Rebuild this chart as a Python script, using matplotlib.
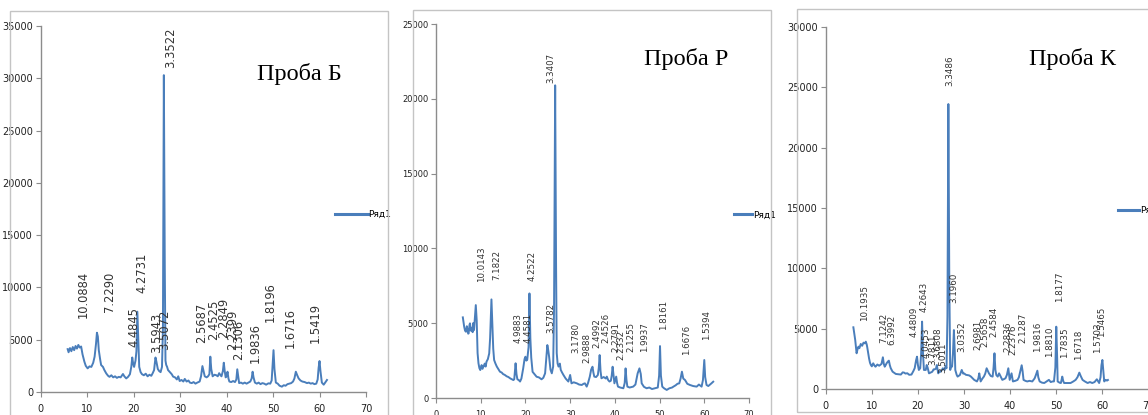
import matplotlib.pyplot as plt
from matplotlib.patches import Rectangle

# ---- Проба Б ----
b_x = [5.8, 6.0, 6.3, 6.6, 6.9, 7.2, 7.5, 7.8, 8.1, 8.4, 8.7, 9.0, 9.4, 9.7, 10.1, 10.5, 10.9, 11.3, 11.6, 11.9,
       12.1, 12.3, 12.5, 12.8, 13.0, 13.4, 13.7, 14.1, 14.5, 14.8, 15.2, 15.6, 16.0, 16.4, 16.8, 17.2, 17.7, 18.0,
       18.4, 18.8, 19.2, 19.5, 19.7, 19.9, 20.1, 20.4, 20.6, 20.8, 21.0, 21.2, 21.5, 21.8, 22.2, 22.6, 23.0, 23.4,
       23.8, 24.1, 24.4, 24.7, 24.9, 25.2, 25.5, 25.8, 26.1, 26.3, 26.5, 26.7, 26.85, 27.0, 27.2, 27.4, 27.8, 28.2,
       28.5, 28.9, 29.3, 29.6, 29.9, 30.3, 30.7, 31.0, 31.4, 31.8, 32.1, 32.5, 32.9, 33.3, 33.7, 34.2, 34.5, 34.8,
       35.0, 35.3, 35.7, 36.0, 36.3, 36.5, 36.7, 37.0, 37.4, 37.8, 38.1, 38.4, 38.7, 38.9, 39.2, 39.4, 39.6, 39.8,
       40.0, 40.2, 40.4, 40.6, 41.0, 41.4, 41.8, 42.1, 42.3, 42.5, 42.7, 43.1, 43.5, 43.9, 44.3, 44.7, 45.1, 45.4,
       45.6, 45.8, 46.1, 46.5, 46.9, 47.3, 47.7, 48.1, 48.5, 49.0, 49.4, 49.7, 49.9, 50.1, 50.3, 50.6, 51.0, 51.4,
       51.9, 52.3, 52.7, 53.1, 53.5, 53.9, 54.3, 54.6, 54.9, 55.2, 55.5, 55.9, 56.3, 56.8, 57.3, 57.7, 58.1, 58.5,
       58.9, 59.3, 59.6, 59.8, 60.0, 60.2, 60.5, 60.9, 61.2, 61.6]
b_y = [4100, 3800, 4200, 3900, 4300, 4000, 4400, 4150, 4500, 4250, 4350, 3600, 2900, 2500, 2260, 2450, 2400, 2800, 3380, 4600,
       5670, 5300, 4000, 3100, 2580, 2400, 2100, 1780, 1550, 1450, 1600, 1400, 1500, 1350, 1450, 1400, 1720, 1500,
       1300, 1450, 1700, 2420, 3300, 2700, 2400, 3000, 3900, 7680, 5000, 2400, 1900, 1700, 1600, 1750, 1500, 1650,
       1550, 1800, 2100, 3300, 2900, 2200, 2000, 1900, 2400, 6000, 30300, 12000, 3000, 2600, 2400, 2100, 1900, 1700,
       1470, 1400, 1200, 1500, 1050, 1150, 1000, 1250, 1000, 1100, 900, 850, 950, 800, 900, 1000, 1500, 2480,
       2100, 1500, 1400, 1500, 1700, 3380, 2200, 1500, 1650, 1600, 1500, 1800, 1600, 1500, 2000, 2800, 2000, 1400,
       1500, 1940, 1300, 1000, 950, 1050, 950, 1200, 2170, 1500, 850, 900, 800, 900, 800, 900, 1000, 1300,
       1940, 1400, 900, 800, 900, 750, 850, 800, 700, 830, 800, 1100, 2500, 4000, 2200, 900, 800, 600,
       510, 650, 600, 750, 800, 850, 1000, 1300, 1940, 1600, 1300, 1100, 1000, 950, 850, 900, 800, 850,
       750, 800, 1200, 2300, 2960, 2000, 900, 700, 900, 1150]
b_labels = ["10.0884", "7.2290", "4.4845", "4.2731", "3.5943", "3.3522", "3.5072", "2.5687", "2.4525",
            "2.2849", "2.2399", "2.1306", "1.9836", "1.8196", "1.6716", "1.5419"]
b_lab_x = [9.2, 14.8, 20.1, 21.7, 24.9, 28.0, 26.6, 34.6, 37.3, 39.4, 41.2, 42.6, 46.1, 49.5, 53.6, 59.0]
b_lab_y = [7075, 7680, 4330, 9460, 3700, 31000, 4000, 4680, 4970, 5160, 4020, 3060, 2770, 6720, 4190, 4680]

# ---- Проба Р ----
p_x = [6.0, 6.2, 6.3, 6.5, 6.7, 6.9, 7.0, 7.2, 7.3, 7.5, 7.6, 7.8, 8.0, 8.2, 8.3, 8.5, 8.7, 8.9, 9.1, 9.3,
       9.5, 9.7, 9.9, 10.2, 10.4, 10.6, 10.9, 11.1, 11.3, 11.6, 11.9, 12.1, 12.4, 12.6, 12.8, 13.0, 13.3, 13.6,
       14.0, 14.3, 14.7, 15.0, 15.4, 15.8, 16.2, 16.6, 17.0, 17.3, 17.5, 17.8, 18.0, 18.2, 18.5, 18.8, 19.1, 19.5,
       19.8, 20.0, 20.2, 20.4, 20.7, 20.9, 21.1, 21.3, 21.6, 22.0, 22.5, 23.0, 23.6, 24.0, 24.4, 24.7, 24.9, 25.1,
       25.3, 25.6, 25.9, 26.2, 26.4, 26.65, 26.85, 27.0, 27.2, 27.4, 27.7, 27.9, 28.2, 28.5, 29.0, 29.6, 30.0,
       30.3, 30.8, 31.5, 32.0, 32.6, 33.0, 33.3, 33.7, 34.0, 34.4, 34.7, 35.0, 35.2, 35.4, 35.8, 36.2, 36.4, 36.6,
       36.8, 37.0, 37.5, 38.0, 38.2, 38.5, 38.8, 39.1, 39.3, 39.5, 39.7, 39.9, 40.1, 40.3, 40.5, 40.7, 41.2, 41.9,
       42.2, 42.4, 42.6, 42.8, 43.3, 44.1, 44.6, 45.1, 45.5, 45.8, 46.0, 46.5, 47.1, 47.7, 48.3, 49.0, 49.6, 49.9,
       50.1, 50.3, 50.6, 51.0, 51.6, 52.2, 52.8, 53.1, 53.6, 54.0, 54.4, 54.7, 55.0, 55.3, 55.7, 56.2, 56.8, 57.5,
       58.3, 58.8, 59.4, 59.7, 60.0, 60.2, 60.5, 60.9, 61.3, 61.6, 62.0]
p_y = [5390, 5000, 4770, 4500, 4430, 4800, 4600, 4300, 4320, 4900, 4990, 4500, 4700, 4400, 5000, 4540, 5400, 6210, 5200, 3000,
       2320, 2000, 1870, 2200, 1950, 2090, 2300, 2100, 2430, 2600, 2980, 4000, 6590, 5000, 3300, 2540, 2300, 2100,
       1900, 1760, 1700, 1600, 1540, 1450, 1400, 1310, 1250, 1200, 1250, 2320, 1600, 1250, 1200, 1100, 1300, 1980,
       2600, 2760, 2500, 2550, 3400, 6990, 4000, 2700, 1750, 1600, 1420, 1380, 1250, 1350, 1650, 2800, 3540, 3200,
       2750, 1900, 1650, 2100, 6000, 20900, 9000, 3000, 2300, 2100, 2300, 1880, 1700, 1540, 1300, 1100, 1540,
       980, 1050, 980, 900, 870, 950, 980, 760, 1000, 1430, 1900, 2090, 1700, 1430, 1400, 1540, 2000, 2870,
       1800, 1320, 1400, 1300, 1430, 1200, 1100, 1150, 1500, 2090, 1500, 980, 1200, 1430, 1000, 760, 700, 650,
       1000, 1980, 1200, 760, 700, 760, 900, 1650, 1980, 1600, 980, 750, 650, 700, 600, 650, 700, 1500,
       3470, 1500, 760, 650, 540, 650, 700, 760, 850, 950, 980, 1300, 1760, 1300, 1200, 950, 870, 800,
       760, 900, 760, 1200, 2540, 1400, 870, 800, 900, 980, 1090]
p_labels = ["10.0143", "7.1822", "4.9883", "4.4581", "4.2522", "3.5782", "3.3407", "3.1780", "2.9888",
            "2.4992", "2.4526", "2.2791", "2.2332", "2.1255", "1.9937", "1.8161", "1.6676", "1.5394"]
p_lab_x = [10.2, 13.7, 18.4, 20.6, 21.5, 25.6, 25.6, 31.2, 33.7, 35.9, 38.0, 40.2, 41.4, 43.5, 46.7, 50.8, 56.1, 60.5]
p_lab_y = [7780, 7890, 3650, 3650, 7840, 4340, 21030, 2990, 2320, 3320, 3650, 3100, 2540, 3100, 3100, 4540, 2870, 3880]

# ---- Проба К ----
k_x = [6.0, 6.2, 6.4, 6.6, 6.7, 6.9, 7.1, 7.3, 7.6, 7.9, 8.2, 8.5, 8.7, 8.9, 9.0, 9.2, 9.4, 9.6, 9.8, 10.0,
       10.3, 10.6, 10.8, 11.2, 11.6, 12.1, 12.4, 12.6, 12.8, 13.0, 13.2, 13.5, 13.7, 13.9, 14.1, 14.5, 14.9, 15.2,
       15.7, 16.3, 16.7, 17.0, 17.3, 17.7, 18.1, 18.6, 19.0, 19.3, 19.6, 19.8, 20.0, 20.2, 20.5, 20.7, 20.9, 21.1,
       21.3, 21.7, 21.9, 22.1, 22.4, 22.8, 23.1, 23.4, 23.6, 23.9, 24.1, 24.4, 24.7, 24.9, 25.2, 25.4, 25.8, 26.0,
       26.2, 26.4, 26.6, 26.8, 27.0, 27.2, 27.4, 27.6, 27.8, 28.0, 28.1, 28.4, 28.6, 29.1, 29.5, 29.8, 30.0, 30.4,
       30.7, 31.1, 31.5, 31.9, 32.2, 32.8, 33.1, 33.3, 33.6, 34.0, 34.3, 34.6, 34.9, 35.2, 35.4, 35.8, 36.2, 36.4,
       36.6, 36.8, 37.0, 37.3, 37.6, 38.0, 38.3, 38.7, 39.0, 39.3, 39.6, 39.8, 39.9, 40.1, 40.3, 40.6, 41.1, 41.6,
       41.9, 42.1, 42.5, 42.7, 42.9, 43.3, 43.7, 44.2, 44.8, 45.3, 45.6, 45.9, 46.1, 46.4, 46.9, 47.4, 47.9, 48.4,
       48.8, 49.2, 49.5, 49.8, 50.0, 50.2, 50.3, 50.7, 51.0, 51.3, 51.5, 51.7, 52.4, 53.1, 53.7, 54.2, 54.6, 55.0,
       55.3, 55.7, 56.2, 56.8, 57.3, 57.8, 58.3, 58.8, 59.1, 59.3, 59.6, 59.8, 60.0, 60.2, 60.4, 60.7, 61.0, 61.2]
k_y = [5130, 4600, 4080, 3300, 2980, 3300, 3530, 3400, 3750, 3600, 3860, 3800, 3940, 3700, 3500, 3000, 2560, 2200, 2010, 1900,
       2150, 1950, 1870, 2050, 1950, 2100, 2650, 2100, 1870, 2000, 2150, 2300, 2370, 2000, 1750, 1460, 1350, 1270,
       1250, 1220, 1400, 1380, 1300, 1330, 1200, 1220, 1500, 1750, 2400, 2700, 2000, 1600, 1750, 3000, 5600, 3000,
       1600, 1600, 2010, 1800, 1320, 1400, 1450, 1650, 1650, 1700, 2010, 1320, 1500, 1450, 1600, 1740, 1600, 1900,
       1740, 6000, 23600, 9000, 1600, 1900, 1870, 3000, 4900, 3000, 1600, 1200, 1050, 1180, 1600, 1300, 1320, 1200,
       1180, 1150, 1050, 900, 780, 650, 900, 1320, 650, 900, 1050, 1300, 1740, 1500, 1320, 1100, 1050, 1800,
       2980, 1600, 1180, 1050, 1320, 1000, 780, 850, 920, 1200, 1740, 1100, 780, 1050, 1320, 650, 700, 780,
       1000, 1320, 1990, 1500, 780, 700, 650, 700, 650, 900, 1200, 1540, 1000, 650, 550, 520, 650, 780,
       600, 650, 650, 1800, 5180, 2500, 650, 550, 520, 1050, 700, 520, 520, 520, 650, 780, 1000, 1380,
       1100, 780, 650, 520, 600, 520, 600, 830, 650, 520, 1000, 2000, 2430, 1500, 650, 780, 720, 770]
k_labels = ["10.1935", "7.1242", "6.3992", "4.4809", "4.2643", "4.0453", "3.7811", "3.6808", "3.5011",
            "3.3486", "3.1960", "3.0352", "2.6981", "2.5658", "2.4584", "2.2836", "2.2376", "2.1287",
            "1.9816", "1.8810", "1.8177", "1.7835", "1.6718", "1.5703", "1.5465"]
k_lab_x = [8.5, 12.5, 14.3, 19.1, 21.3, 21.7, 23.2, 24.3, 25.5, 27.0, 27.7, 29.5, 32.9, 34.5, 36.4,
           39.5, 40.7, 42.7, 45.9, 48.5, 50.7, 51.7, 54.9, 58.9, 59.8]
k_lab_y = [5670, 3800, 3660, 4350, 6420, 2560, 2010, 2560, 1320, 25090, 7110, 3110, 3250, 3520, 4350,
           3110, 2840, 3800, 3110, 2700, 7250, 2560, 2420, 2980, 4350]

W, H = 1148, 415
LINE = "#4a7ebb"
AXIS = "#8c8c8c"
TICKFONT = ["Liberation Sans Narrow", "DejaVu Sans"]

fig = plt.figure(figsize=(W / 100, H / 100), dpi=100)
fig.patch.set_facecolor("white")


def px_rect(left, top, right, bottom):
    # pixel box (from top-left) -> figure fraction rect
    return [left / W, (H - bottom) / H, (right - left) / W, (bottom - top) / H]


def frame(left, top, right, bottom):
    x0, y0, w, h = px_rect(left, top, right, bottom)
    fig.patches.append(Rectangle((x0, y0), w, h, transform=fig.transFigure,
                                 fill=False, edgecolor="#c4c4c4", lw=1.0))


def panel(rect, xs, ys, ymax, labels, lab_x, lab_y, lab_size, tick_size,
          title, title_xy, leg_xy, leg_len):
    ax = fig.add_axes(rect)
    ax.plot(xs, ys, color=LINE, lw=1.4, label="Ряд1")
    ax.set_xlim(0, 70)
    ax.set_ylim(0, ymax)
    ax.set_xticks(range(0, 71, 10))
    ax.set_yticks(range(0, ymax + 1, 5000))
    for s in ["top", "right"]:
        ax.spines[s].set_visible(False)
    for s in ["left", "bottom"]:
        ax.spines[s].set_color(AXIS)
        ax.spines[s].set_linewidth(1.0)
    ax.tick_params(direction="out", length=3.5, width=0.8, color=AXIS,
                   labelsize=tick_size, labelcolor="#222222", pad=2)
    ax.tick_params(axis="x", pad=5)
    for t in ax.get_xticklabels() + ax.get_yticklabels():
        t.set_family(TICKFONT)
    for txt, x, y in zip(labels, lab_x, lab_y):
        ax.text(x, y, txt, rotation=90, ha="center", va="bottom",
                fontsize=lab_size, color="#333333", family="DejaVu Sans")
    fig.text(title_xy[0] / W, 1 - title_xy[1] / H, title, family="Liberation Serif",
             fontsize=17.5, ha="left", va="baseline", color="black")
    leg = ax.legend(loc="center left", bbox_to_anchor=leg_xy, frameon=False,
                    handlelength=leg_len, handletextpad=0.1, borderpad=0,
                    borderaxespad=0, prop={"family": TICKFONT, "size": 6.5})
    leg.get_lines()[0].set_linewidth(2.2)
    return ax


frame(10, 11, 388, 430)
frame(413, 10, 771, 430)
frame(797, 9, 1170, 412)

panel(px_rect(40.7, 26, 366, 392), b_x, b_y, 35000, b_labels, b_lab_x, b_lab_y, 8.3, 7,
      "Проба Б", (257, 80), (0.905, 0.484), 3.6)
panel(px_rect(436, 24, 749, 398), p_x, p_y, 25000, p_labels, p_lab_x, p_lab_y, 6.2, 6,
      "Проба Р", (644, 65), (0.952, 0.489), 2.0)
panel(px_rect(825.7, 26.7, 1148.5, 389.3), k_x, k_y, 30000, k_labels, k_lab_x, k_lab_y, 6.3, 7,
      "Проба К", (1029, 65), (0.904, 0.494), 2.4)

fig.savefig("out.png", dpi=100, facecolor="white")
